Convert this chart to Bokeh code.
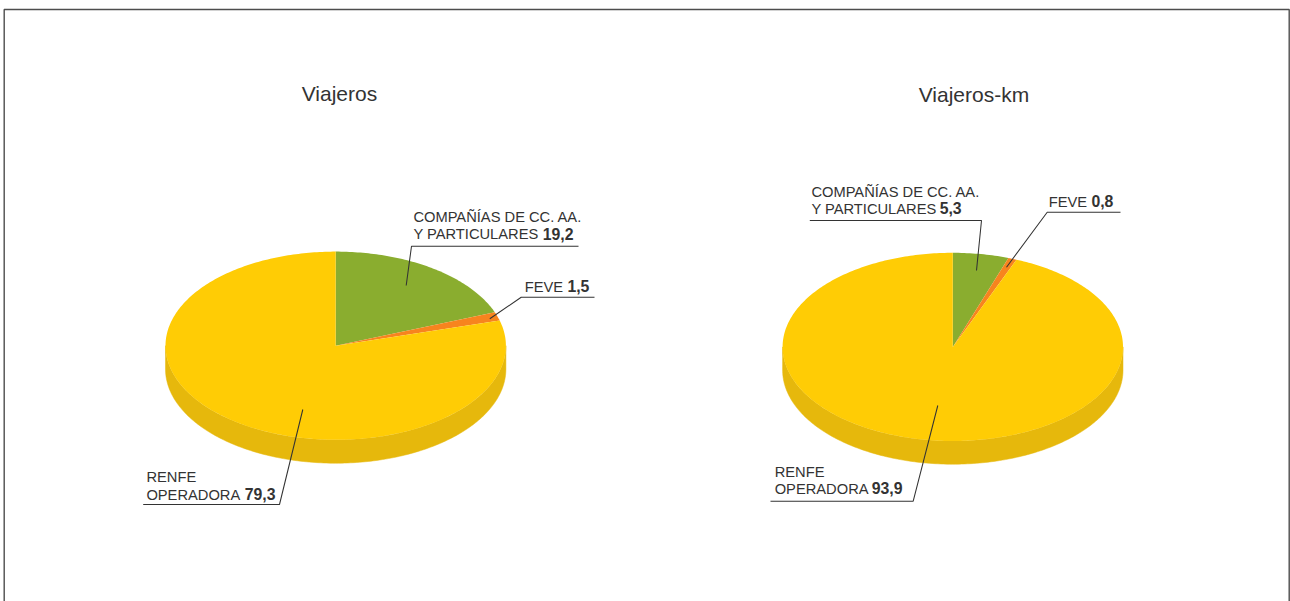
import numpy as np
from bokeh.embed import file_html
from bokeh.resources import INLINE
from bokeh.models import Range1d
from bokeh.plotting import figure
from bokeh.core.properties import value

# Data
segments = ["COMPAÑÍAS DE CC. AA. Y PARTICULARES", "FEVE", "RENFE OPERADORA"]
viajeros = [19.2, 1.5, 79.3]
viajeros_km = [5.3, 0.8, 93.9]
seg_colors = ["#8AAD2F", "#F7841E", "#FFCC05"]
side_color = "#E6B80C"
titles = ["Viajeros", "Viajeros-km"]

FONT = "Liberation Sans"
W, H = 1290, 601
p = figure(width=W, height=H, x_range=Range1d(0, 1290), y_range=Range1d(601, 0),
           output_backend="svg", toolbar_location=None,
           min_border=0, outline_line_color=None)
p.axis.visible = False
p.grid.visible = False
p.background_fill_color = "white"
p.border_fill_color = "white"

# frame
p.line([3.7, 3.7, 1288.7, 1288.7], [601, 9, 9, 601], line_color="#4d4d4d", line_width=1.4)


def pie(vals, cx, cy, rx, ry, depth):
    # side wall
    t = np.linspace(0, np.pi, 181)
    xs = cx + rx * np.cos(t)
    ys = cy + ry * np.sin(t)
    p.patch(np.r_[xs, xs[::-1]], np.r_[ys, ys[::-1] + depth],
            fill_color=side_color, line_color=side_color, line_width=0.5)
    # top wedges, clockwise from 12 o'clock
    start = 0.0
    for v, c in zip(vals, seg_colors):
        a = np.linspace(start, start + v, max(int(v * 4), 8)) / sum(vals) * 2 * np.pi
        p.patch(np.r_[cx, cx + rx * np.sin(a)], np.r_[cy, cy - ry * np.cos(a)],
                fill_color=c, line_color=None)
        start += v


pie(viajeros, 335.2, 345.2, 170.2, 94.1, 23.4)
pie(viajeros_km, 952.3, 346.4, 170.2, 94.1, 23.2)


def leader(xs, ys):
    p.line(xs, ys, line_color="#333333", line_width=1.05)


leader([578, 411, 405.7], [245.7, 245.7, 285])
leader([594, 520.7, 489.3], [296.7, 296.7, 318.3])
leader([142.7, 279, 302.3], [504, 504, 409])
leader([809.3, 981, 976], [220, 220, 270])
leader([1120, 1046.7, 1006], [211.7, 211.7, 266.7])
leader([770, 912.7, 937.3], [500.7, 500.7, 405])


def txt(x, y, s, size=14.7, style="normal", color="#333333"):
    p.text([x - 0.8], [y - 0.385 * size], text=[s], text_font=value(FONT), text_font_size=value(f"{size}px"),
           text_font_style=style, text_color=color, text_baseline="alphabetic", text_align="left")


def num(x, y, s):
    txt(x, y, s, size=15.8, style="bold")


txt(302, 101, titles[0], 21)
txt(919, 102, titles[1], 21)

txt(413.7, 222.3, "COMPAÑÍAS DE CC. AA.")
txt(413.7, 239.3, "Y PARTICULARES")
num(543, 239.3, "19,2")
txt(525, 291.7, "FEVE")
num(567.7, 291.7, "1,5")
txt(146.7, 482.3, "RENFE")
txt(146.7, 500, "OPERADORA")
num(245, 500, "79,3")

txt(811.7, 196.7, "COMPAÑÍAS DE CC. AA.")
txt(811.7, 213.7, "Y PARTICULARES")
num(940, 213.7, "5,3")
txt(1049, 206.7, "FEVE")
num(1091.7, 206.7, "0,8")
txt(775, 476.7, "RENFE")
txt(775, 494, "OPERADORA")
num(872, 494, "93,9")

open("out.html", "w").write(file_html(p, INLINE))
